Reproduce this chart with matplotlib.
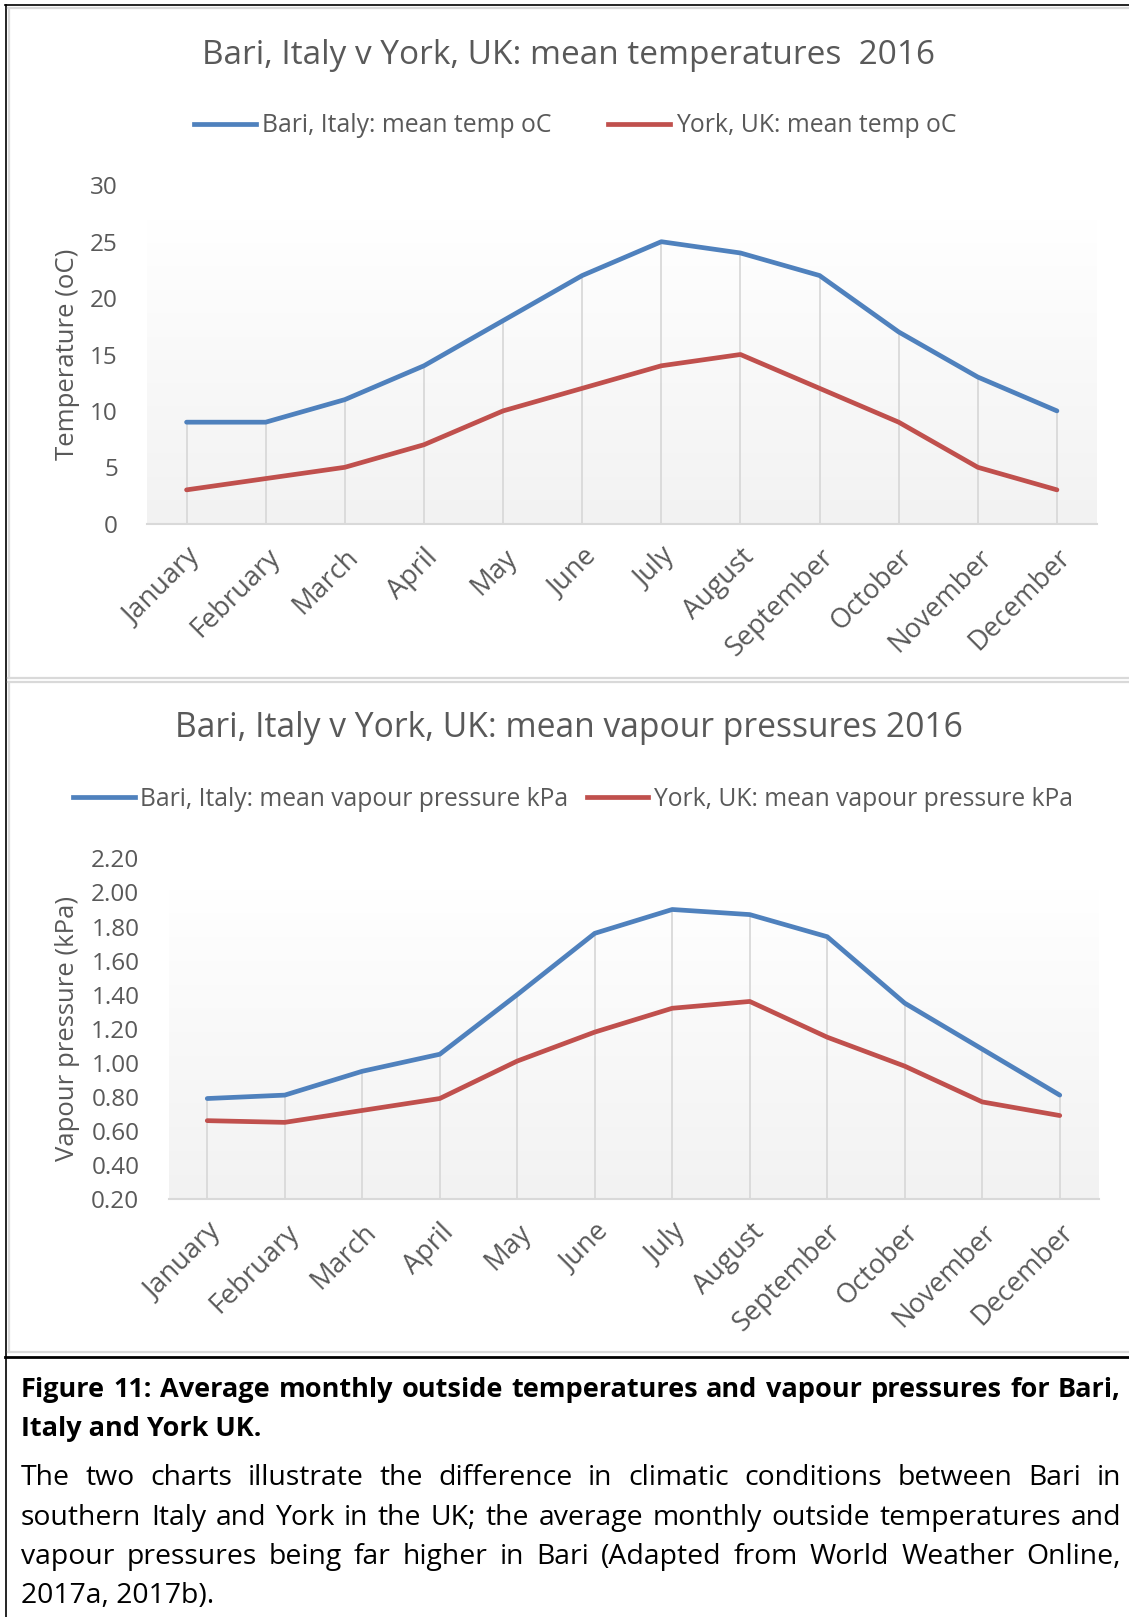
import numpy as np
import matplotlib
matplotlib.use("Agg")
import matplotlib.pyplot as plt
from matplotlib.lines import Line2D
from matplotlib.colors import LinearSegmentedColormap

plt.rcParams["font.family"] = ["Open Sans", "DejaVu Sans"]

months = ["January", "February", "March", "April", "May", "June", "July",
          "August", "September", "October", "November", "December"]
bari_temp = [9, 9, 11, 14, 18, 22, 25, 24, 22, 17, 13, 10]
york_temp = [3, 4, 5, 7, 10, 12, 14, 15, 12, 9, 5, 3]
bari_vp = [0.79, 0.81, 0.95, 1.05, 1.40, 1.76, 1.90, 1.87, 1.74, 1.35, 1.08, 0.81]
york_vp = [0.66, 0.65, 0.72, 0.79, 1.01, 1.18, 1.32, 1.36, 1.15, 0.98, 0.77, 0.69]

temp_ticks = [0, 5, 10, 15, 20, 25, 30]
vp_ticks = [0.20, 0.40, 0.60, 0.80, 1.00, 1.20, 1.40, 1.60, 1.80, 2.00, 2.20]

blue = "#4F81BD"
red = "#C0504D"
grey_txt = "#595959"
grid = "#D9D9D9"

W, H = 1129, 1617
fig = plt.figure(figsize=(W / 100, H / 100), dpi=100)
fig.patch.set_facecolor("white")

grad = LinearSegmentedColormap.from_list("g", ["#F2F2F2", "#FFFFFF"])


def box(x0, y0, x1, y1):
    # pixel coords from top-left -> figure fraction
    return [x0 / W, 1 - y1 / H, (x1 - x0) / W, (y1 - y0) / H]


def chart(rect, bari, york, ticks, ylim, grad_top, fmt, ylabel):
    ax = fig.add_axes(rect)
    x = np.arange(len(months))
    ax.set_xlim(-0.5, len(months) - 0.5)
    ax.imshow(np.linspace(1, 0, 256).reshape(-1, 1), cmap=grad, aspect="auto",
              extent=[-0.5, len(months) - 0.5, ylim[0], grad_top], zorder=0)
    ax.set_ylim(*ylim)
    top = np.maximum(bari, york)
    ax.vlines(x, ylim[0], top, color=grid, lw=1.3, zorder=1)
    ax.plot(x, bari, color=blue, lw=3.4, zorder=3, solid_capstyle="round")
    ax.plot(x, york, color=red, lw=3.4, zorder=3, solid_capstyle="round")
    for s in ["top", "right", "left"]:
        ax.spines[s].set_visible(False)
    ax.spines["bottom"].set_color(grid)
    ax.spines["bottom"].set_linewidth(1.5)
    ax.set_yticks(ticks)
    ax.set_yticklabels([fmt.format(t) for t in ticks], fontsize=17.5, color=grey_txt)
    ax.set_xticks(x)
    ax.set_xticklabels(months, rotation=45, ha="right", rotation_mode="anchor",
                       fontsize=19.5, color=grey_txt)
    ax.tick_params(axis="both", length=0)
    ax.tick_params(axis="x", pad=14)
    ax.tick_params(axis="y", pad=21)
    ax.set_ylabel(ylabel, fontsize=18.5, color=grey_txt)
    return ax


ax1 = chart(box(147, 185.3, 1096.5, 523.7), bari_temp, york_temp, temp_ticks,
            (0, 30), 27, "{:.0f}", "Temperature (oC)")
ax1.yaxis.set_label_coords(-0.071, 0.5)
ax2 = chart(box(168.5, 858.4, 1098.5, 1199), bari_vp, york_vp, vp_ticks,
            (0.2, 2.2), 2.02, "{:.2f}", "Vapour pressure (kPa)")
ax2.yaxis.set_label_coords(-0.095, 0.5)

fig.text(568 / W, 1 - 55 / H, "Bari, Italy v York, UK: mean temperatures  2016",
         ha="center", va="center", fontsize=24, color=grey_txt)
fig.text(569 / W, 1 - 728 / H, "Bari, Italy v York, UK: mean vapour pressures 2016",
         ha="center", va="center", fontsize=24.2, color=grey_txt)

h_b = Line2D([], [], color=blue, lw=3.4)
h_r = Line2D([], [], color=red, lw=3.4)
fig.legend([h_b, h_r], ["Bari, Italy: mean temp oC", "York, UK: mean temp oC"],
           loc="center", bbox_to_anchor=(575 / W, 1 - 126 / H), ncol=2,
           frameon=False, fontsize=17.8, handlelength=2.5, handletextpad=0.24,
           columnspacing=2.3, labelcolor=grey_txt)
fig.legend([h_b, h_r], ["Bari, Italy: mean vapour pressure kPa",
                        "York, UK: mean vapour pressure kPa"],
           loc="center", bbox_to_anchor=(573 / W, 1 - 799 / H), ncol=2,
           frameon=False, fontsize=17.7, handlelength=2.5, handletextpad=0.24,
           columnspacing=0.73, labelcolor=grey_txt)


# frames
def hline(y, x0, x1, c, lw):
    fig.add_artist(Line2D([x0 / W, x1 / W], [1 - y / H, 1 - y / H], color=c, lw=lw))


def vline(x, y0, y1, c, lw):
    fig.add_artist(Line2D([x / W, x / W], [1 - y0 / H, 1 - y1 / H], color=c, lw=lw))


hline(5, 5, W, "black", 1.2)
vline(5.5, 5, H, "black", 1.2)
hline(8.5, 8, W, grid, 1.6)
vline(8.5, 8, 678, grid, 1.6)
hline(678, 8, W, grid, 1.6)
hline(682, 8, W, grid, 1.6)
vline(8.5, 682, 1352, grid, 1.6)
hline(1352, 8, W, grid, 1.6)
hline(1356.5, 5, W, "black", 2)

# caption with justified lines
renderer = fig.canvas.get_renderer()


def width_of(text, **kw):
    t = fig.text(0, 0, text, **kw)
    w = t.get_window_extent(renderer).width
    t.remove()
    return w


def fit_size(text, target, **kw):
    base = 20
    return base * target / width_of(text, fontsize=base, **kw)


def justify(text, y, x0, x1, **kw):
    words = text.split()
    arts = [fig.text(0, 1 - y / H, w, va="baseline", ha="left", **kw) for w in words]
    widths = [a.get_window_extent(renderer).width for a in arts]
    gap = (x1 - x0 - sum(widths)) / (len(words) - 1)
    x = x0
    for a, w in zip(arts, widths):
        a.set_x(x / W)
        x += w + gap


def left(text, y, x0, **kw):
    fig.text(x0 / W, 1 - y / H, text, va="baseline", ha="left", **kw)


cap1 = "Figure 11: Average monthly outside temperatures and vapour pressures for Bari,"
body2 = "southern Italy and York in the UK; the average monthly outside temperatures and"
bsize = fit_size(cap1, 1085, fontweight="bold")
tsize = fit_size(body2, 1075)
bold = dict(fontsize=bsize, fontweight="bold", color="black")
body = dict(fontsize=tsize, color="black")
justify(cap1, 1397, 21, 1121, **bold)
left("Italy and York UK.", 1436, 21, **bold)
justify("The two charts illustrate the difference in climatic conditions between Bari in",
        1485, 21, 1121, **body)
justify(body2, 1525, 21, 1121, **body)
justify("vapour pressures being far higher in Bari (Adapted from World Weather Online,",
        1564, 21, 1121, **body)
left("2017a, 2017b).", 1603, 21, **body)

fig.savefig("out.png", dpi=100)
